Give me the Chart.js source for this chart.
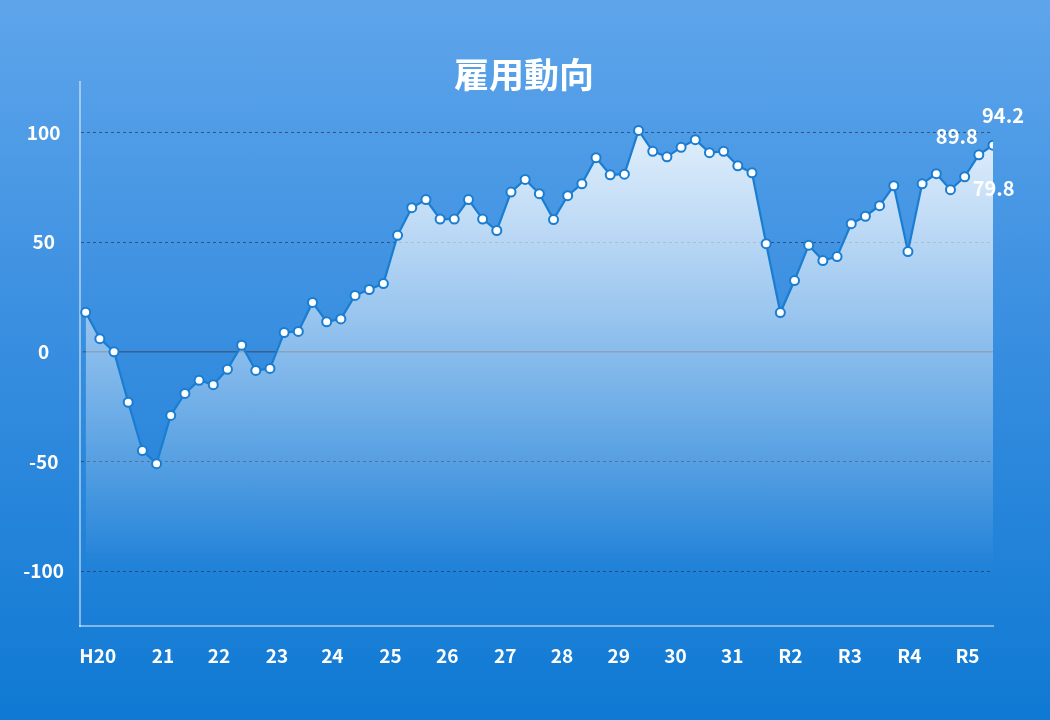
<!DOCTYPE html>
<html lang="ja">
<head>
<meta charset="utf-8">
<title>雇用動向</title>
<script src="https://cdn.jsdelivr.net/npm/chart.js@4.4.1/dist/chart.umd.min.js"></script>
<style>
  html, body { margin: 0; padding: 0; }
  body {
    width: 1050px; height: 720px; overflow: hidden;
    background: linear-gradient(180deg, #5ea5eb 0%, #3a8fe0 45%, #0f79d3 100%);
  }
  canvas { display: block; }
</style>
</head>
<body>
<canvas id="graficoEmpleo" width="1050" height="720"></canvas>
<script>
// Datos trimestrales (H20 ... R5)
var valores = [
  18, 6, 0, -23, -45, -51, -29, -19,
  -13, -15, -8, 3, -8.5, -7.6, 8.8, 9.3,
  22.5, 13.7, 15, 25.7, 28.4, 31.1, 53.1, 65.7,
  69.4, 60.5, 60.5, 69.4, 60.5, 55.3, 72.8, 78.6,
  72.1, 60.3, 71.2, 76.6, 88.5, 80.7, 81, 100.9,
  91.4, 88.9, 93.2, 96.7, 90.8, 91.4, 84.8, 81.6,
  49.3, 17.9, 32.5, 48.6, 41.6, 43.4, 58.4, 61.8,
  66.6, 75.7, 45.7, 76.6, 81.2, 73.9, 79.8, 89.8,
  94.2
];

// Etiquetas de año y dónde caen (en número de trimestre)
var etiquetasAnio = ['H20', '21', '22', '23', '24', '25', '26', '27', '28', '29', '30', '31', 'R2', 'R3', 'R4', 'R5'];
var posicionAnio = [0.85, 5.45, 9.4, 13.5, 17.4, 21.5, 25.5, 29.6, 33.6, 37.6, 41.6, 45.6, 49.7, 53.9, 58.1, 62.2];

// Marcas del eje Y
var marcasY = [-100, -50, 0, 50, 100];

// Índices con valor rotulado
var rotulados = [62, 63, 64];

var fuente = '"Noto Sans CJK JP", "Noto Sans", sans-serif';
Chart.defaults.font.family = fuente;
Chart.defaults.color = '#ffffff';

var puntos = valores.map(function (v, i) { return { x: i, y: v }; });

// Título, línea del cero y rótulos
var extras = {
  id: 'extras',
  beforeDatasetsDraw: function (chart) {
    var ctx = chart.ctx;
    var area = chart.chartArea;
    var y0 = chart.scales.y.getPixelForValue(0);
    ctx.save();
    ctx.strokeStyle = 'rgba(60, 72, 90, 0.65)';
    ctx.lineWidth = 1.5;
    ctx.beginPath();
    ctx.moveTo(area.left + 3, y0);
    ctx.lineTo(area.right, y0);
    ctx.stroke();
    ctx.restore();
  },
  afterDraw: function (chart) {
    var ctx = chart.ctx;
    ctx.save();
    ctx.fillStyle = '#ffffff';
    ctx.textAlign = 'center';
    ctx.textBaseline = 'middle';
    ctx.font = 'bold 35px ' + fuente;
    ctx.fillText('雇用動向', chart.width / 2 - 1, 75);

    var meta = chart.getDatasetMeta(0);
    // 79.8 abajo a la derecha, 89.8 arriba a la izquierda, 94.2 arriba
    var desfases = [[29, 12], [-22, -18], [10, -30]];
    ctx.font = 'bold 20px ' + fuente;
    rotulados.forEach(function (idx, k) {
      var p = meta.data[idx];
      ctx.fillText(valores[idx].toFixed(1), p.x + desfases[k][0], p.y + desfases[k][1]);
    });
    ctx.restore();
  }
};

var ctx = document.getElementById('graficoEmpleo').getContext('2d');
var myChart = new Chart(ctx, {
  type: 'line',
  data: {
    datasets: [{
      label: '雇用動向',
      data: puntos,
      borderColor: '#1a7dd1',
      borderWidth: 2.2,
      tension: 0,
      pointRadius: 4.5,
      pointBorderWidth: 2,
      pointBackgroundColor: '#ffffff',
      pointBorderColor: '#1a7dd1',
      fill: 'start',
      backgroundColor: function (c) {
        var chart = c.chart;
        var area = chart.chartArea;
        if (!area) return 'rgba(255,255,255,0.4)';
        var fondo = chart.scales.y.getPixelForValue(-100);
        var g = chart.ctx.createLinearGradient(0, area.top, 0, fondo);
        g.addColorStop(0, 'rgba(255,255,255,0.92)');
        g.addColorStop(1, 'rgba(255,255,255,0)');
        return g;
      }
    }]
  },
  options: {
    responsive: false,
    animation: false,
    layout: { padding: { top: 82, left: 20, right: 57, bottom: 34 } },
    plugins: {
      legend: { display: false },
      tooltip: { enabled: false }
    },
    scales: {
      x: {
        type: 'linear',
        min: -0.4,
        max: 64,
        grid: { display: false, drawTicks: false },
        border: { display: true, color: 'rgba(255,255,255,0.45)', width: 2 },
        afterBuildTicks: function (scale) {
          scale.ticks = posicionAnio.map(function (v) { return { value: v }; });
        },
        afterFit: function (scale) { scale.height = 60; },
        ticks: {
          autoSkip: false,
          maxRotation: 0,
          padding: 18,
          font: { size: 19, weight: 'bold' },
          color: '#ffffff',
          callback: function (v, i) { return etiquetasAnio[i]; }
        }
      },
      y: {
        min: -125,
        max: 123,
        afterBuildTicks: function (scale) {
          scale.ticks = marcasY.map(function (v) { return { value: v }; });
        },
        afterFit: function (scale) { scale.width = 60; },
        grid: {
          drawTicks: false,
          lineWidth: 1,
          color: function (c) {
            return c.tick && c.tick.value === 0 ? 'rgba(0,0,0,0)' : 'rgba(35,55,85,0.7)';
          }
        },
        border: { display: true, color: 'rgba(255,255,255,0.45)', width: 2, dash: [3, 3] },
        ticks: {
          crossAlign: 'center',
          padding: 16,
          font: { size: 19, weight: 'bold' },
          color: '#ffffff'
        }
      }
    }
  },
  plugins: [extras]
});
</script>
</body>
</html>
